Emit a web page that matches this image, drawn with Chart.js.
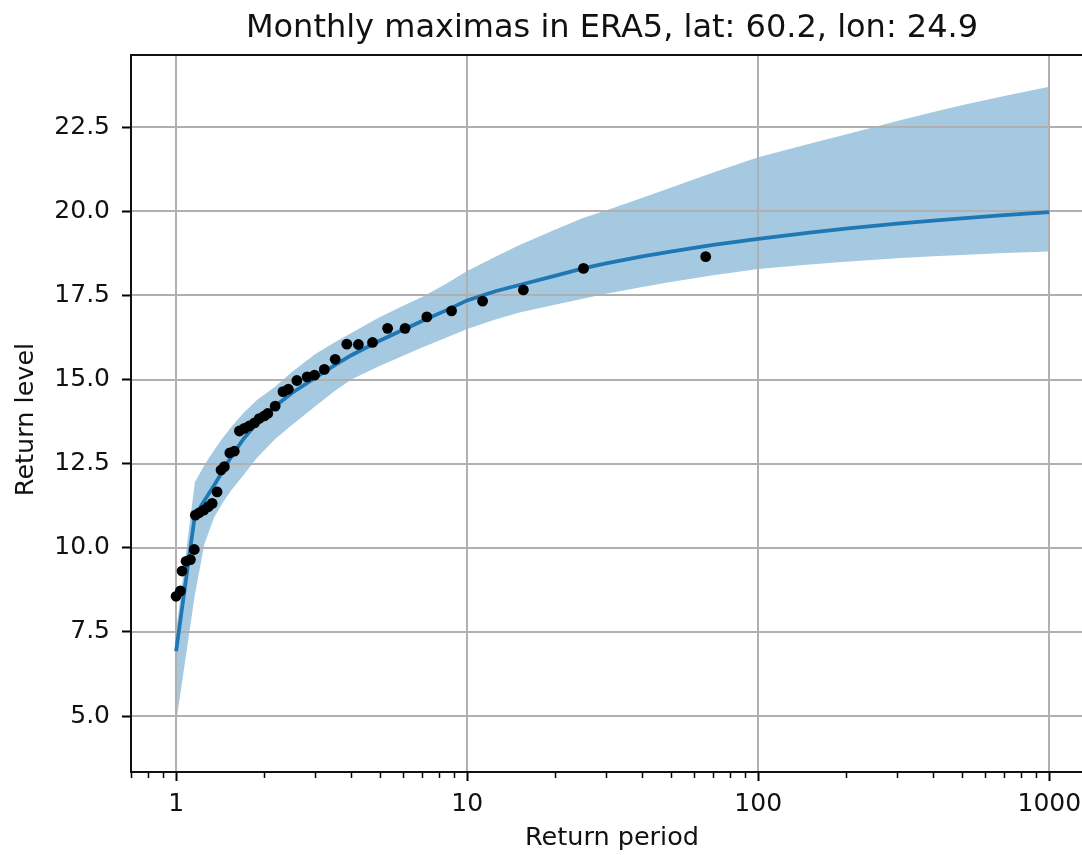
<!DOCTYPE html>
<html>
<head>
<meta charset="utf-8">
<script src="https://cdn.jsdelivr.net/npm/chart.js@4.4.1/dist/chart.umd.min.js"></script>
<style>
    html, body { margin: 0; padding: 0; background: #fff; overflow: hidden; }
    #wrap { width: 1100px; height: 855px; position: relative; }
</style>
</head>
<body>
<div id="wrap"><canvas id="chart"></canvas></div>
<script>
// observed monthly maxima (return period, return level)
const returnPeriods = [1.00, 1.035, 1.048, 1.082, 1.12, 1.155, 1.165, 1.20, 1.245, 1.29, 1.33, 1.383,
    1.427, 1.465, 1.53, 1.585, 1.65, 1.716, 1.785, 1.86, 1.93, 2.01, 2.065, 2.19, 2.33, 2.43,
    2.60, 2.82, 2.99, 3.23, 3.52, 3.86, 4.23, 4.73, 5.33, 6.12, 7.27, 8.84, 11.3, 15.6, 25.1, 66.0];
const observedLevels = [8.56, 8.72, 9.31, 9.60, 9.65, 9.95, 10.97, 11.04, 11.12, 11.22, 11.32, 11.66,
    12.31, 12.41, 12.82, 12.87, 13.47, 13.55, 13.62, 13.71, 13.84, 13.92, 13.99, 14.21, 14.64, 14.71,
    14.97, 15.08, 15.13, 15.30, 15.60, 16.05, 16.04, 16.10, 16.52, 16.52, 16.86, 17.04, 17.33, 17.66, 18.30, 18.65];

// fitted curve and confidence band
const curvePeriods = [1, 1.16, 1.25, 1.35, 1.45, 1.55, 1.7, 1.9, 2.2, 2.5, 3, 3.5, 4, 5, 6, 7, 8.5, 10,
    12.5, 15, 20, 25, 30, 40, 50, 70, 100, 150, 200, 300, 400, 500, 700, 1000];
const fitLevels = [6.93, 10.95, 11.4, 11.85, 12.3, 12.72, 13.22, 13.72, 14.22, 14.6, 15.05, 15.42, 15.72, 16.15, 16.47, 16.74, 17.06, 17.35,
    17.62, 17.8, 18.08, 18.3, 18.45, 18.66, 18.8, 19.0, 19.18, 19.36, 19.48, 19.63, 19.72, 19.79, 19.88, 19.97];
const upperLevels = [7.5, 11.95, 12.45, 12.9, 13.28, 13.6, 14.0, 14.4, 14.8, 15.22, 15.75, 16.1, 16.38, 16.85, 17.18, 17.45, 17.85, 18.22,
    18.65, 18.98, 19.45, 19.8, 20.02, 20.4, 20.7, 21.15, 21.6, 22.0, 22.28, 22.68, 22.95, 23.15, 23.42, 23.7];
const lowerLevels = [4.8, 8.6, 10.1, 10.9, 11.35, 11.72, 12.15, 12.68, 13.25, 13.65, 14.2, 14.65, 15.0, 15.4, 15.7, 15.95, 16.25, 16.5,
    16.78, 16.98, 17.22, 17.4, 17.55, 17.75, 17.9, 18.1, 18.28, 18.42, 18.5, 18.6, 18.66, 18.7, 18.76, 18.8];

const xTickValues = [1, 10, 100, 1000];
const yTickValues = [5, 7.5, 10, 12.5, 15, 17.5, 20, 22.5];

const FONT = '"DejaVu Sans", sans-serif';
const toPoints = (xs, ys) => xs.map((x, i) => ({ x: x, y: ys[i] }));

const gridAndFrame = {
    id: 'gridAndFrame',
    afterDatasetDraw(chart, args) {
        // grid sits above the band but below the curve and dots
        if (args.index !== 2) return;
        const { ctx, chartArea: a, scales: { x, y } } = chart;
        ctx.save();
        ctx.strokeStyle = '#b0b0b0';
        ctx.lineWidth = 2;
        ctx.beginPath();
        xTickValues.forEach(v => {
            const px = Math.round(x.getPixelForValue(v));
            ctx.moveTo(px, a.top); ctx.lineTo(px, a.bottom);
        });
        yTickValues.forEach(v => {
            const py = Math.round(y.getPixelForValue(v));
            ctx.moveTo(a.left, py); ctx.lineTo(a.right, py);
        });
        ctx.stroke();
        ctx.restore();
    },
    afterDraw(chart) {
        const { ctx, chartArea: a, scales: { x } } = chart;
        ctx.save();
        // minor ticks on the log axis
        ctx.strokeStyle = '#000';
        ctx.lineWidth = 1.5;
        ctx.beginPath();
        for (let d = 0.1; d <= 1000; d *= 10) {
            for (let m = 2; m <= 9; m++) {
                const v = d * m;
                if (v < x.min || v > x.max) continue;
                const px = Math.round(x.getPixelForValue(v)) + 0.5;
                ctx.moveTo(px, a.bottom); ctx.lineTo(px, a.bottom + 6);
            }
        }
        ctx.stroke();
        // axes frame
        ctx.lineWidth = 2;
        ctx.strokeStyle = '#111';
        ctx.strokeRect(a.left, a.top, a.right - a.left, a.bottom - a.top);
        // titles
        ctx.fillStyle = '#111';
        ctx.textAlign = 'center';
        ctx.textBaseline = 'alphabetic';
        ctx.font = '32px ' + FONT;
        ctx.fillText('Monthly maximas in ERA5, lat: 60.2, lon: 24.9', (a.left + a.right) / 2, 37);
        ctx.font = '25.5px ' + FONT;
        ctx.fillText('Return period', (a.left + a.right) / 2, 845);
        ctx.translate(33, (a.top + a.bottom) / 2 + 6);
        ctx.rotate(-Math.PI / 2);
        ctx.fillText('Return level', 0, 0);
        ctx.restore();
    }
};

new Chart(document.getElementById('chart'), {
    type: 'line',
    data: {
        datasets: [
            {
                label: 'observed',
                data: toPoints(returnPeriods, observedLevels),
                showLine: false,
                pointRadius: 5.4,
                pointBackgroundColor: '#000',
                pointBorderWidth: 0
            },
            {
                label: 'fit',
                data: toPoints(curvePeriods, fitLevels),
                borderColor: '#1f77b4',
                borderWidth: 3.75,
                pointRadius: 0,
                tension: 0,
                fill: false
            },
            {
                label: 'upper',
                data: toPoints(curvePeriods, upperLevels),
                borderColor: 'transparent',
                borderWidth: 1,
                pointRadius: 0,
                tension: 0,
                backgroundColor: 'rgba(31,119,180,0.4)',
                fill: 3
            },
            {
                label: 'lower',
                data: toPoints(curvePeriods, lowerLevels),
                borderColor: 'transparent',
                borderWidth: 1,
                pointRadius: 0,
                tension: 0,
                fill: false
            }
        ]
    },
    options: {
        responsive: true,
        maintainAspectRatio: false,
        animation: false,
        layout: { padding: { left: 0, top: 55, right: 7, bottom: 0 } },
        plugins: { legend: { display: false }, tooltip: { enabled: false } },
        scales: {
            x: {
                type: 'logarithmic',
                min: 0.708,
                max: 1413,
                afterBuildTicks: (scale) => { scale.ticks = xTickValues.map(v => ({ value: v, major: true })); },
                afterFit: (scale) => { scale.height = 83; },
                grid: { display: true, drawOnChartArea: false, drawTicks: true, tickLength: 9, tickColor: '#000', tickWidth: 2 },
                border: { display: false },
                ticks: {
                    autoSkip: false, maxRotation: 0, padding: 8,
                    color: '#111',
                    font: { family: FONT, size: 25 },
                    callback: (v) => String(v)
                }
            },
            y: {
                type: 'linear',
                min: 3.34,
                max: 24.64,
                afterBuildTicks: (scale) => { scale.ticks = yTickValues.map(v => ({ value: v })); },
                afterFit: (scale) => { scale.width = 131; },
                grid: { display: true, drawOnChartArea: false, drawTicks: true, tickLength: 9, tickColor: '#000', tickWidth: 2 },
                border: { display: false },
                ticks: {
                    padding: 12,
                    color: '#111',
                    font: { family: FONT, size: 25 },
                    callback: (v) => Number(v).toFixed(1)
                }
            }
        }
    },
    plugins: [gridAndFrame]
});
</script>
</body>
</html>
